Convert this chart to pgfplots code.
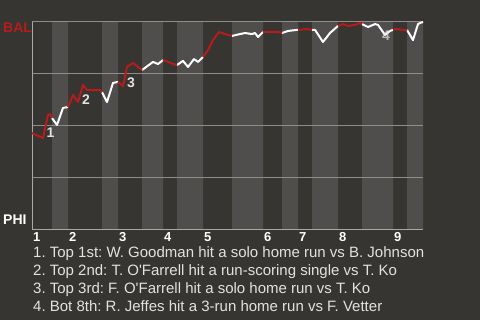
\documentclass[border=0pt]{standalone}
\usepackage{fontspec}
\setmainfont{Liberation Sans}
\usepackage{pgfplots}
\pgfplotsset{compat=1.18}
\definecolor{bg}{HTML}{363531}
\definecolor{band}{HTML}{4F4E4C}
\definecolor{gridc}{HTML}{8E8D8A}
\definecolor{axc}{HTML}{A8A8A6}
\definecolor{redl}{HTML}{B71C1C}
\definecolor{txt}{HTML}{E2E2E0}
\pagecolor{bg}
\frenchspacing
\begin{document}
\frenchspacing
\begin{tikzpicture}
\path (0pt,0pt) rectangle (480pt,320pt);
\begin{axis}[
  at={(32pt,90pt)}, anchor=south west,
  scale only axis, width=391pt, height=208pt,
  xmin=0, xmax=391, ymin=0, ymax=1,
  set layers,
  axis x line*=bottom, axis y line*=left,
  axis line style={draw=axc, line width=1pt, -},
  ytick={0.25,0.5,0.75,1}, yticklabels={},
  ymajorgrids, grid style={draw=gridc, line width=1pt},
  xtick={0,36,86,131,171,231,266,306,361},
  xticklabels={1,2,3,4,5,6,7,8,9},
  major tick length=0pt,
  /pgf/number format/assume math mode=true,
  xticklabel style={font=\fontsize{13}{13}\selectfont\bfseries, text=white, anchor=base west, inner sep=0pt, yshift=-12pt, xshift=1pt},
  clip=false,
  unbounded coords=jump,
]
\addplot[const plot, fill=band, draw=none, on layer=axis background] coordinates {
  (0,0) (20,1) (36,0) (70,1) (86,0) (110,1) (131,0) (145,1) (171,0) (200,1)
  (231,0) (250,1) (266,0) (280,1) (306,0) (330,1) (361,0) (375,1) (391,1)
} \closedcycle;
% white: bottom halves (PHI batting)
\addplot[white, line width=2pt, line join=round] coordinates {
  (20,.538) (25,.505) (31,.587) (36,.591) (36,nan)
  (70,.663) (75,.615) (81,.707) (86,.712) (86,nan)
  (110,.769) (121,.808) (126,.798) (131,.817) (131,nan)
  (145,.793) (151,.813) (156,.784) (162,.822) (166,.808) (171,.832) (171,nan)
  (200,.933) (208,.942) (213,.947) (220,.942) (223,.947) (226,.928) (231,.952) (231,nan)
  (250,.947) (256,.957) (265,.962) (266,.962) (266,nan)
  (280,.962) (283,.962) (291,.904) (298,.947) (306,.981) (306,nan)
  (330,.99) (336,.976) (343,.99) (346,.986) (353,.938) (358,.957) (361,.962) (361,nan)
  (375,.962) (381,.913) (386,.99) (388,.995) (391,1)
};
% red: top halves (BAL batting)
\addplot[redl, line width=2pt, line join=round] coordinates {
  (0,.466) (11,.442) (16,.553) (18,.558) (20,.538) (20,nan)
  (36,.591) (41,.649) (46,.615) (51,.697) (55,.673) (68,.673) (70,.663) (70,nan)
  (86,.712) (91,.692) (95,.784) (101,.803) (110,.769) (110,nan)
  (131,.817) (136,.808) (141,.798) (145,.793) (145,nan)
  (171,.832) (176,.865) (181,.913) (187,.952) (193,.942) (200,.933) (200,nan)
  (231,.952) (236,.952) (241,.952) (246,.952) (250,.947) (250,nan)
  (266,.962) (275,.966) (280,.962) (280,nan)
  (306,.981) (311,.99) (316,.981) (323,.986) (328,.995) (330,.99) (330,nan)
  (361,.962) (365,.966) (371,.962) (375,.962)
};
\node[font=\fontsize{14}{14}\selectfont\bfseries, text=txt, inner sep=0pt] at (axis cs:18.5,.466) {1};
\node[font=\fontsize{14}{14}\selectfont\bfseries, text=txt, inner sep=0pt] at (axis cs:54,.625) {2};
\node[font=\fontsize{14}{14}\selectfont\bfseries, text=txt, inner sep=0pt] at (axis cs:99,.709) {3};
\node[font=\fontsize{14}{14}\selectfont\bfseries, text=txt, opacity=0.7, inner sep=0pt] at (axis cs:354,.935) {4};
\end{axis}
\node[anchor=base west, inner sep=0pt, font=\fontsize{14}{14}\selectfont\bfseries, text=redl] at (3pt,287pt) {BAL};
\node[anchor=base west, inner sep=0pt, font=\fontsize{14}{14}\selectfont\bfseries, text=white] at (3pt,95pt) {PHI};
\node[anchor=base west, inner sep=0pt, text=txt, font=\fontsize{15}{18}\selectfont] at (33pt,62pt) {1. Top 1st: W. Goodman hit a solo home run vs B. Johnson};
\node[anchor=base west, inner sep=0pt, text=txt, font=\fontsize{15}{18}\selectfont] at (33pt,44pt) {2. Top 2nd: T. O\textquotesingle Farrell hit a run-scoring single vs T. Ko};
\node[anchor=base west, inner sep=0pt, text=txt, font=\fontsize{15}{18}\selectfont] at (33pt,26pt) {3. Top 3rd: F. O\textquotesingle Farrell hit a solo home run vs T. Ko};
\node[anchor=base west, inner sep=0pt, text=txt, font=\fontsize{15}{18}\selectfont] at (33pt,8pt) {4. Bot 8th: R. Jeffes hit a 3-run home run vs F. Vetter};
\end{tikzpicture}
\end{document}
